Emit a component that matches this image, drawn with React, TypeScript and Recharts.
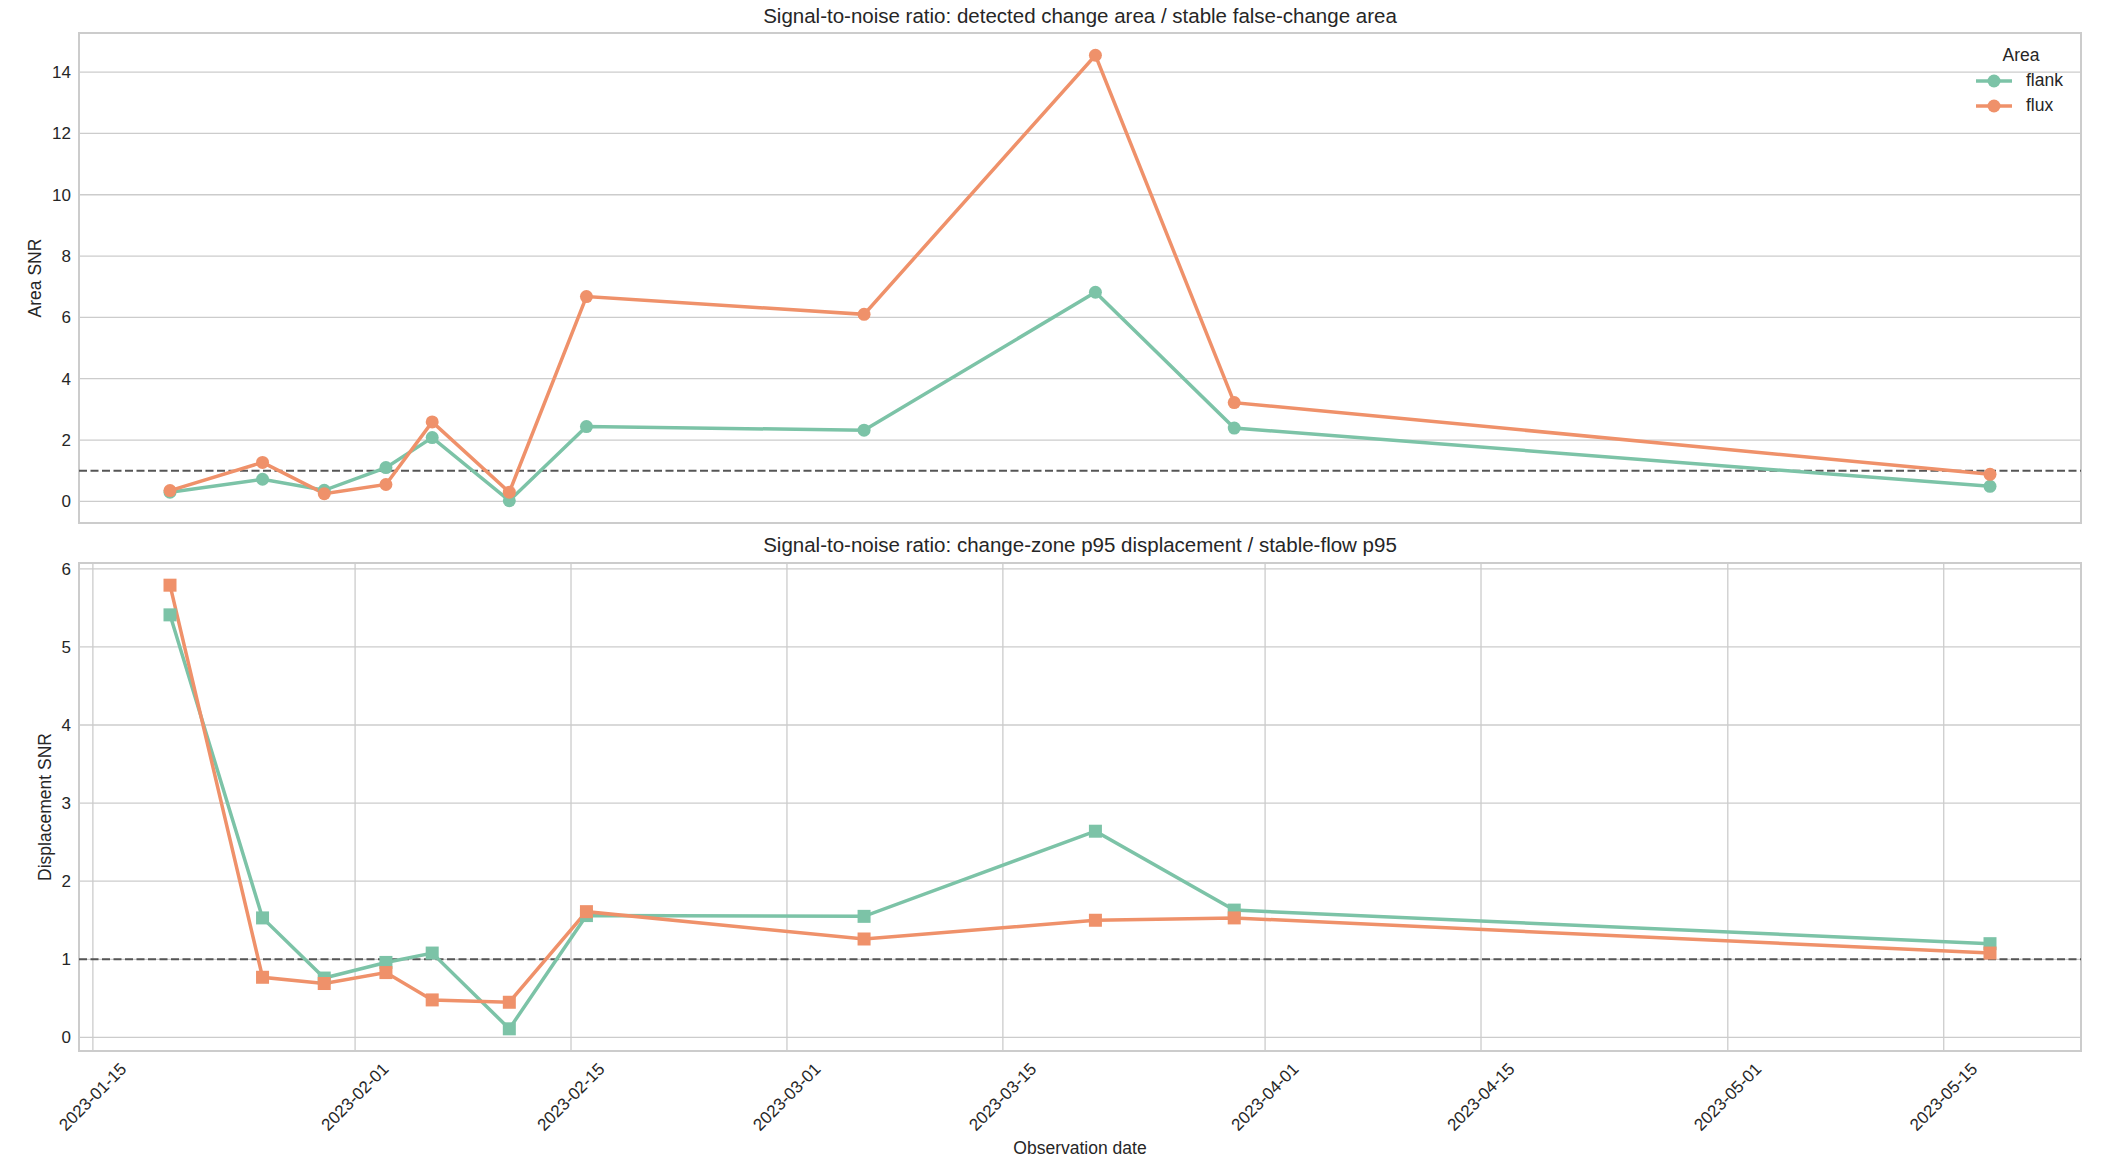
import {
  LineChart,
  Line,
  XAxis,
  YAxis,
  CartesianGrid,
  ReferenceLine,
  ReferenceArea,
  Legend,
} from "recharts";

const FONT = '"Liberation Sans", Arial, Helvetica, sans-serif';
const TEXT = "#262626";
const GRID = "#cccccc";
const FLANK = "#7cc3a7";
const FLUX = "#ef916a";

// observation dates (one per acquisition)
const obsDates = [
  "2023-01-20",
  "2023-01-26",
  "2023-01-30",
  "2023-02-03",
  "2023-02-06",
  "2023-02-11",
  "2023-02-16",
  "2023-03-06",
  "2023-03-21",
  "2023-03-30",
  "2023-05-18",
];

// detected change area / stable false-change area
const flankAreaSnr = [0.3, 0.72, 0.36, 1.1, 2.08, 0.02, 2.44, 2.32, 6.82, 2.39, 0.49];
const fluxAreaSnr = [0.35, 1.27, 0.25, 0.55, 2.59, 0.3, 6.68, 6.1, 14.55, 3.22, 0.88];

// change-zone p95 displacement / stable-flow p95
const flankDispSnr = [5.41, 1.53, 0.76, 0.96, 1.08, 0.11, 1.56, 1.55, 2.64, 1.63, 1.2];
const fluxDispSnr = [5.79, 0.77, 0.69, 0.83, 0.48, 0.45, 1.61, 1.26, 1.5, 1.53, 1.08];

const dateTicks = [
  "2023-01-15",
  "2023-02-01",
  "2023-02-15",
  "2023-03-01",
  "2023-03-15",
  "2023-04-01",
  "2023-04-15",
  "2023-05-01",
  "2023-05-15",
];
const areaTicks = [0, 2, 4, 6, 8, 10, 12, 14];
const dispTicks = [0, 1, 2, 3, 4, 5, 6];

const toTs = (d: string) => Date.parse(d + "T00:00:00Z");
const fmtDate = (t: number) => new Date(t).toISOString().slice(0, 10);

// 5% padding on both sides, like matplotlib's default margins
const padded = (vals: number[]): [number, number] => {
  const lo = Math.min(...vals);
  const hi = Math.max(...vals);
  const m = (hi - lo) * 0.05;
  return [lo - m, hi + m];
};

const rows = obsDates.map((d, i) => ({
  t: toTs(d),
  flankArea: flankAreaSnr[i],
  fluxArea: fluxAreaSnr[i],
  flankDisp: flankDispSnr[i],
  fluxDisp: fluxDispSnr[i],
}));

const xTicks = dateTicks.map(toTs);
const xDomain = padded(rows.map((r) => r.t));
const areaDomain = padded([...flankAreaSnr, ...fluxAreaSnr]);
const dispDomain = padded([...flankDispSnr, ...fluxDispSnr]);

const WIDTH = 2102;
const AXIS_W = 79;
const RIGHT = 21;
const LINE_W = 3.5;
const DOT_R = 6.5;

function DateTick({ x, y, payload }: any) {
  const cy = y + 46;
  return (
    <text
      x={x}
      y={cy}
      transform={`rotate(-45, ${x}, ${cy})`}
      textAnchor="middle"
      dominantBaseline="central"
      fontSize={17}
      fontFamily={FONT}
      fill={TEXT}
    >
      {fmtDate(payload.value)}
    </text>
  );
}

function YTitle({ viewBox, text, px }: any) {
  const cy = viewBox.y + viewBox.height / 2;
  return (
    <text
      x={px}
      y={cy}
      transform={`rotate(-90, ${px}, ${cy})`}
      textAnchor="middle"
      dominantBaseline="central"
      fontSize={17.5}
      fontFamily={FONT}
      fill={TEXT}
    >
      {text}
    </text>
  );
}

function XTitle({ viewBox, text }: any) {
  return (
    <text
      x={viewBox.x + viewBox.width / 2}
      y={viewBox.y + 97}
      textAnchor="middle"
      dominantBaseline="central"
      fontSize={17.5}
      fontFamily={FONT}
      fill={TEXT}
    >
      {text}
    </text>
  );
}

function AreaLegend({ payload }: any) {
  return (
    <div style={{ fontFamily: FONT, fontSize: 17.5, color: TEXT, width: 90 }}>
      <div style={{ textAlign: "center", lineHeight: "25px" }}>Area</div>
      {(payload || []).map((p: any) => (
        <div
          key={p.value}
          style={{ display: "flex", alignItems: "center", height: 25 }}
        >
          <svg width={36} height={14} style={{ marginRight: 14 }}>
            <line x1={0} y1={7} x2={36} y2={7} stroke={p.color} strokeWidth={LINE_W} />
            <circle cx={18} cy={7} r={DOT_R} fill={p.color} />
          </svg>
          <span>{p.value}</span>
        </div>
      ))}
    </div>
  );
}

const squareDot = (color: string) => (props: any) => {
  const { cx, cy, index } = props;
  return (
    <rect
      key={`sq-${color}-${index}`}
      x={cx - DOT_R}
      y={cy - DOT_R}
      width={DOT_R * 2}
      height={DOT_R * 2}
      fill={color}
    />
  );
};

const titleStyle = (top: number): React.CSSProperties => ({
  position: "absolute",
  left: AXIS_W,
  width: WIDTH - AXIS_W - RIGHT,
  top,
  textAlign: "center",
  fontFamily: FONT,
  fontSize: 20.5,
  lineHeight: "24px",
  color: TEXT,
});

export default function App() {
  return (
    <div
      style={{
        position: "absolute",
        left: 0,
        top: 0,
        width: WIDTH,
        height: 1162,
        background: "#fff",
        overflow: "hidden",
      }}
    >
      <div style={{ position: "absolute", left: 0, top: 0 }}>
        <LineChart
          width={WIDTH}
          height={535}
          data={rows}
          margin={{ top: 33, right: RIGHT, bottom: 0, left: 0 }}
        >
          <CartesianGrid stroke={GRID} strokeWidth={1.3} />
          <XAxis
            dataKey="t"
            type="number"
            domain={xDomain}
            ticks={xTicks}
            interval={0}
            allowDataOverflow
            tick={false}
            tickLine={false}
            axisLine={false}
            height={12}
          />
          <YAxis
            type="number"
            domain={areaDomain}
            ticks={areaTicks}
            interval={0}
            allowDataOverflow
            width={AXIS_W}
            tickLine={false}
            axisLine={false}
            tickSize={0}
            tickMargin={8}
            tick={{ fontSize: 17, fill: TEXT, fontFamily: FONT }}
            label={<YTitle text="Area SNR" px={35} />}
          />
          <ReferenceArea
            x1={xDomain[0]}
            x2={xDomain[1]}
            y1={areaDomain[0]}
            y2={areaDomain[1]}
            fill="none"
            stroke={GRID}
            strokeWidth={2}
          />
          <ReferenceLine y={1} stroke="#555" strokeWidth={2} strokeDasharray="8 3.5" />
          <Line
            dataKey="flankArea"
            name="flank"
            stroke={FLANK}
            strokeWidth={LINE_W}
            dot={{ r: DOT_R, fill: FLANK, stroke: FLANK, strokeWidth: 0 }}
            activeDot={false}
            isAnimationActive={false}
          />
          <Line
            dataKey="fluxArea"
            name="flux"
            stroke={FLUX}
            strokeWidth={LINE_W}
            dot={{ r: DOT_R, fill: FLUX, stroke: FLUX, strokeWidth: 0 }}
            activeDot={false}
            isAnimationActive={false}
          />
          <Legend
            layout="horizontal"
            verticalAlign="middle"
            align="center"
            wrapperStyle={{ top: 43, left: 1976, width: 100, height: "auto" }}
            content={<AreaLegend />}
          />
        </LineChart>
      </div>

      <div style={{ position: "absolute", left: 0, top: 530 }}>
        <LineChart
          width={WIDTH}
          height={632}
          data={rows}
          margin={{ top: 33, right: RIGHT, bottom: 0, left: 0 }}
        >
          <CartesianGrid stroke={GRID} strokeWidth={1.3} />
          <XAxis
            dataKey="t"
            type="number"
            domain={xDomain}
            ticks={xTicks}
            interval={0}
            allowDataOverflow
            tickLine={false}
            axisLine={false}
            tickSize={0}
            tickMargin={0}
            height={111}
            tick={<DateTick />}
            label={<XTitle text="Observation date" />}
          />
          <YAxis
            type="number"
            domain={dispDomain}
            ticks={dispTicks}
            interval={0}
            allowDataOverflow
            width={AXIS_W}
            tickLine={false}
            axisLine={false}
            tickSize={0}
            tickMargin={8}
            tick={{ fontSize: 17, fill: TEXT, fontFamily: FONT }}
            label={<YTitle text="Displacement SNR" px={45} />}
          />
          <ReferenceArea
            x1={xDomain[0]}
            x2={xDomain[1]}
            y1={dispDomain[0]}
            y2={dispDomain[1]}
            fill="none"
            stroke={GRID}
            strokeWidth={2}
          />
          <ReferenceLine y={1} stroke="#555" strokeWidth={2} strokeDasharray="8 3.5" />
          <Line
            dataKey="flankDisp"
            name="flank"
            stroke={FLANK}
            strokeWidth={LINE_W}
            dot={squareDot(FLANK)}
            activeDot={false}
            isAnimationActive={false}
          />
          <Line
            dataKey="fluxDisp"
            name="flux"
            stroke={FLUX}
            strokeWidth={LINE_W}
            dot={squareDot(FLUX)}
            activeDot={false}
            isAnimationActive={false}
          />
        </LineChart>
      </div>

      <div style={titleStyle(4)}>
        Signal-to-noise ratio: detected change area / stable false-change area
      </div>
      <div style={titleStyle(533)}>
        Signal-to-noise ratio: change-zone p95 displacement / stable-flow p95
      </div>
    </div>
  );
}
